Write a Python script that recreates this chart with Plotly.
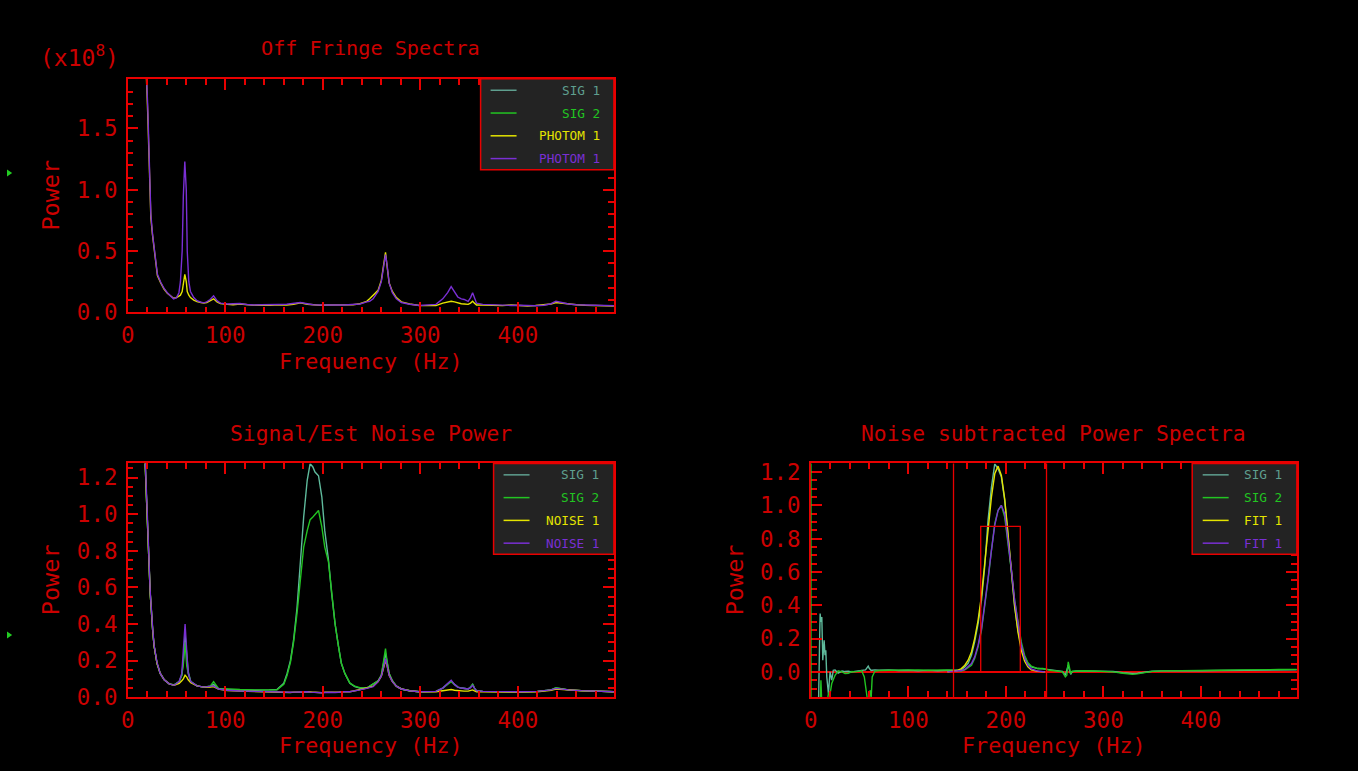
import plotly.graph_objects as go

# ---------------- data ----------------
# Panel 1: Off Fringe Spectra (units of 1e8)
F_TOP = [16, 19, 20.5, 22, 23.7, 25.4, 27, 28.7, 30.4, 33.8,
         37.2, 40.6, 44, 47, 50, 52.5, 54, 55.8, 57, 58.5,
         60, 61, 62.6, 64.3, 67.7, 71, 75, 78, 81, 84.5,
         88, 91.5, 95, 102, 108, 115, 122, 129, 137, 146,
         155, 163, 170, 177, 184, 190, 197, 205, 214, 222,
         231, 238, 245, 248, 251.6, 256.7, 260, 262.6, 264.3, 266,
         268, 271.3, 275.4, 280.5, 289, 299, 308, 316, 323, 328,
         331.6, 335, 338.4, 342, 345, 349, 351.5, 353.6, 355.5, 357.6,
         364, 374, 384, 393, 401, 410, 418, 427, 434, 439,
         445, 452, 460, 469, 478, 486, 494, 498.5]
PHOTOM1_TOP = [4.0, 1.95, 1.62, 1.17, 0.77, 0.63, 0.52, 0.37, 0.30, 0.24,
               0.19, 0.155, 0.13, 0.115, 0.12, 0.13, 0.14, 0.17, 0.24, 0.31,
               0.25, 0.17, 0.14, 0.12, 0.10, 0.087, 0.08, 0.075, 0.08, 0.095,
               0.11, 0.085, 0.072, 0.065, 0.062, 0.068, 0.06, 0.058, 0.06, 0.057,
               0.062, 0.06, 0.066, 0.078, 0.066, 0.06, 0.058, 0.06, 0.062, 0.058,
               0.062, 0.07, 0.09, 0.11, 0.14, 0.18, 0.26, 0.40, 0.49, 0.37,
               0.24, 0.17, 0.12, 0.085, 0.068, 0.056, 0.055, 0.055, 0.075, 0.085,
               0.09, 0.085, 0.075, 0.07, 0.068, 0.065, 0.075, 0.09, 0.075, 0.06,
               0.06, 0.058, 0.055, 0.06, 0.055, 0.052, 0.056, 0.06, 0.068, 0.08,
               0.075, 0.065, 0.062, 0.058, 0.055, 0.057, 0.05, 0.052]
PHOTOM2_TOP = [4.0, 1.97, 1.68, 1.2, 0.8, 0.64, 0.53, 0.38, 0.31, 0.245,
               0.195, 0.16, 0.13, 0.11, 0.12, 0.16, 0.25, 0.50, 0.95, 1.23,
               1.0, 0.50, 0.25, 0.17, 0.12, 0.095, 0.082, 0.077, 0.085, 0.105,
               0.135, 0.095, 0.075, 0.068, 0.07, 0.072, 0.064, 0.06, 0.062, 0.06,
               0.064, 0.066, 0.07, 0.08, 0.07, 0.062, 0.06, 0.062, 0.06, 0.06,
               0.065, 0.068, 0.085, 0.09, 0.11, 0.17, 0.25, 0.38, 0.47, 0.38,
               0.24, 0.16, 0.11, 0.08, 0.066, 0.056, 0.058, 0.065, 0.11, 0.16,
               0.21, 0.165, 0.125, 0.11, 0.105, 0.09, 0.12, 0.16, 0.12, 0.075,
               0.065, 0.06, 0.058, 0.056, 0.058, 0.055, 0.054, 0.058, 0.07, 0.09,
               0.08, 0.068, 0.062, 0.06, 0.056, 0.055, 0.055, 0.054]

# Panel 2: Signal/Est Noise Power
F_BL = [15, 17.7, 19.7, 21, 23, 25.5, 27, 30, 33.3, 37.4,
        42.5, 47.6, 52.7, 55.4, 57, 58.8, 60.5, 62, 64.6, 71,
        78, 84.6, 88, 93, 102, 115, 130, 145, 153, 160,
        163.4, 166.8, 170, 173.6, 177, 180.4, 184, 187, 189.8, 192,
        195.6, 199, 202, 205.8, 209, 212.6, 216, 219, 222.6, 227.7,
        232.8, 238, 245, 251.6, 256.7, 260, 262.6, 264.3, 266, 268,
        271.3, 275.4, 280.5, 289, 299, 316, 323, 328, 331.6, 335,
        338.4, 342, 345, 349, 351.5, 353.6, 355.5, 357.6, 364, 384,
        401, 420, 434, 439, 445, 452, 465, 480, 498.5]
SIG1_BL = [3.0, 1.3, 1.02, 0.84, 0.57, 0.37, 0.28, 0.185, 0.13, 0.095,
           0.073, 0.067, 0.085, 0.12, 0.2, 0.34, 0.2, 0.14, 0.085, 0.062,
           0.055, 0.06, 0.07, 0.046, 0.042, 0.04, 0.038, 0.04, 0.042, 0.076,
           0.13, 0.2, 0.31, 0.49, 0.73, 0.985, 1.185, 1.276, 1.258, 1.23,
           1.21, 1.095, 0.91, 0.75, 0.57, 0.40, 0.28, 0.185, 0.13, 0.076,
           0.058, 0.05, 0.05, 0.07, 0.09, 0.12, 0.19, 0.24, 0.19, 0.13,
           0.09, 0.06, 0.045, 0.035, 0.03, 0.032, 0.05, 0.075, 0.09, 0.07,
           0.055, 0.05, 0.048, 0.045, 0.055, 0.07, 0.05, 0.035, 0.032, 0.03,
           0.03, 0.032, 0.04, 0.05, 0.045, 0.04, 0.036, 0.034, 0.03]
SIG2_BL = [3.0, 1.3, 1.02, 0.84, 0.57, 0.37, 0.28, 0.185, 0.13, 0.095,
           0.073, 0.067, 0.085, 0.12, 0.18, 0.30, 0.17, 0.13, 0.085, 0.062,
           0.055, 0.06, 0.085, 0.048, 0.044, 0.042, 0.04, 0.042, 0.04, 0.07,
           0.12, 0.19, 0.30, 0.46, 0.66, 0.82, 0.91, 0.97, 0.985, 1.0,
           1.02, 0.93, 0.82, 0.74, 0.57, 0.40, 0.28, 0.185, 0.13, 0.078,
           0.06, 0.052, 0.05, 0.072, 0.09, 0.12, 0.2, 0.265, 0.19, 0.13,
           0.09, 0.06, 0.045, 0.035, 0.03, 0.032, 0.05, 0.072, 0.085, 0.07,
           0.055, 0.05, 0.048, 0.045, 0.055, 0.072, 0.05, 0.035, 0.032, 0.03,
           0.03, 0.032, 0.04, 0.052, 0.045, 0.04, 0.036, 0.034, 0.03]
NOISE1_BL = [3.0, 1.3, 1.02, 0.84, 0.57, 0.37, 0.28, 0.185, 0.13, 0.095,
             0.073, 0.065, 0.075, 0.09, 0.1, 0.12, 0.11, 0.095, 0.08, 0.062,
             0.055, 0.056, 0.058, 0.044, 0.037, 0.033, 0.03, 0.027, 0.026, 0.028,
             0.027, 0.026, 0.028, 0.027, 0.026, 0.028, 0.03, 0.027, 0.028, 0.027,
             0.025, 0.024, 0.027, 0.026, 0.027, 0.025, 0.027, 0.029, 0.028, 0.03,
             0.035, 0.04, 0.05, 0.06, 0.085, 0.115, 0.17, 0.2, 0.17, 0.12,
             0.085, 0.06, 0.045, 0.035, 0.03, 0.03, 0.035, 0.04, 0.042, 0.038,
             0.035, 0.034, 0.033, 0.033, 0.036, 0.04, 0.035, 0.03, 0.03, 0.028,
             0.028, 0.03, 0.038, 0.045, 0.042, 0.04, 0.035, 0.033, 0.03]
NOISE2_BL = [3.0, 1.32, 1.05, 0.86, 0.58, 0.38, 0.285, 0.19, 0.13, 0.095,
             0.073, 0.065, 0.085, 0.13, 0.28, 0.40, 0.25, 0.13, 0.085, 0.062,
             0.055, 0.058, 0.062, 0.045, 0.038, 0.034, 0.031, 0.028, 0.027, 0.029,
             0.028, 0.027, 0.028, 0.029, 0.03, 0.029, 0.03, 0.028, 0.027, 0.025,
             0.025, 0.024, 0.026, 0.028, 0.027, 0.026, 0.028, 0.029, 0.03, 0.03,
             0.034, 0.04, 0.048, 0.058, 0.085, 0.115, 0.17, 0.21, 0.17, 0.12,
             0.085, 0.06, 0.045, 0.035, 0.03, 0.032, 0.05, 0.075, 0.093, 0.07,
             0.055, 0.05, 0.048, 0.045, 0.052, 0.065, 0.05, 0.035, 0.032, 0.03,
             0.03, 0.032, 0.04, 0.048, 0.044, 0.04, 0.036, 0.034, 0.03]

# Panel 3: Noise subtracted Power Spectra
F_BR = [0, 3, 6, 7.8, 9, 9.5, 10.3, 11.2, 12.2, 13,
        13.6, 14.5, 15.3, 16.3, 17.2, 18, 19, 19.7, 21.4, 23,
        24.8, 28, 32, 35, 38.4, 42, 45, 49, 52, 54.8,
        56, 57, 58, 58.8, 60, 60.8, 61.8, 62.9, 65.7, 70,
        80, 90, 100, 110, 120, 130, 140, 146, 150, 154.4,
        157.9, 161.3, 164.7, 168, 171.5, 175, 178.3, 181.7, 185.2, 188.6,
        192, 195.4, 198.8, 202.2, 205.6, 209, 212.4, 215.8, 219.2, 222.6,
        226, 232.8, 238, 245, 252, 258, 261, 262.5, 264, 265.3,
        266.5, 268, 272, 280, 290, 300, 310, 320, 330, 335,
        340, 350, 360, 380, 400, 420, 440, 460, 480, 498.5]
SIG1_BR = [-1.0, -0.5, -0.3, -0.2, 0.2, 0.35, 0.30, 0.33, 0.07, 0.12,
           0.19, 0.1, 0.13, -0.03, -0.1, -0.13, -0.05, 0.0, -0.05, 0.01,
           0.012, -0.008, 0.005, 0.002, 0.004, 0.0, 0.003, 0.006, 0.008, 0.01,
           0.012, 0.02, 0.03, 0.035, 0.02, 0.01, 0.008, 0.01, 0.012, 0.01,
           0.012, 0.008, 0.01, 0.006, 0.009, 0.007, 0.01, 0.01, 0.01, 0.012,
           0.03, 0.052, 0.1, 0.18, 0.29, 0.43, 0.63, 0.91, 1.11, 1.25,
           1.22, 1.17, 1.03, 0.81, 0.57, 0.39, 0.25, 0.15, 0.09, 0.05,
           0.03, 0.02, 0.018, 0.012, 0.008, 0.003, -0.02, 0.01, 0.04, 0.01,
           -0.015, 0.002, 0.005, 0.006, 0.004, 0.003, 0.002, -0.005, -0.01, -0.008,
           -0.004, 0.004, 0.006, 0.005, 0.007, 0.008, 0.01, 0.012, 0.01, 0.012]
SIG2_BR = [-0.5, -0.5, -0.3, -0.2, -0.3, -0.15, -0.05, -0.2, -0.3, -0.25,
           -0.3, -0.3, -0.3, -0.2, -0.15, -0.13, -0.12, -0.13, -0.07, -0.04,
           -0.02, 0.006, 0.0, -0.01, -0.008, 0.002, 0.0, 0.003, 0.008, -0.03,
           -0.08, -0.11, -0.16, -0.2, -0.14, -0.11, -0.16, -0.03, 0.005, 0.008,
           0.01, 0.012, 0.014, 0.012, 0.01, 0.013, 0.012, 0.01, 0.008, 0.005,
           0.012, 0.025, 0.04, 0.08, 0.15, 0.25, 0.39, 0.55, 0.73, 0.89,
           0.97, 1.0, 0.93, 0.78, 0.61, 0.43, 0.29, 0.18, 0.1, 0.055,
           0.035, 0.02, 0.02, 0.01, 0.005, 0.0, -0.03, -0.02, 0.06, 0.02,
           -0.01, 0.004, 0.006, 0.007, 0.005, 0.003, 0.0, -0.008, -0.015, -0.012,
           -0.006, 0.003, 0.006, 0.006, 0.008, 0.01, 0.012, 0.015, 0.014, 0.015]
F_FIT = [140, 146, 150, 154.4, 157.9, 161.3, 164.7, 168, 171.5, 175,
         178.3, 181.7, 185.2, 188.6, 192, 195.4, 198.8, 202.2, 205.6, 209,
         212.4, 215.8, 219.2, 222.6, 226, 232.8, 240]
FIT1 = [0, 0.003, 0.008, 0.02, 0.04, 0.07, 0.12, 0.2, 0.31, 0.46,
        0.65, 0.86, 1.05, 1.19, 1.236, 1.18, 1.04, 0.83, 0.6, 0.4,
        0.24, 0.13, 0.065, 0.03, 0.012, 0.003, 0]
FIT2 = [0, 0.002, 0.004, 0.008, 0.015, 0.03, 0.05, 0.09, 0.16, 0.26,
        0.4, 0.56, 0.73, 0.88, 0.97, 1.0, 0.95, 0.8, 0.62, 0.43,
        0.28, 0.16, 0.085, 0.04, 0.018, 0.005, 0]
WINDOW = [146.3, 241.7]          # fit window (Hz)
BOX_X = [174.2, 214.8]           # band box (Hz)
BOX_H = 0.874                    # band box height

TITLES = ["Off Fringe Spectra", "Signal/Est Noise Power", "Noise subtracted Power Spectra"]
LEG_TOP = ["SIG 1", "SIG 2", "PHOTOM 1", "PHOTOM 1"]
LEG_BL = ["SIG 1", "SIG 2", "NOISE 1", "NOISE 1"]
LEG_BR = ["SIG 1", "SIG 2", "FIT 1", "FIT 1"]

# ---------------- style ----------------
W, H = 1358, 771
RED = "#e80000"
RTXT = "#cc0000"
C1, C2, C3, C4 = "#5fba9c", "#22c422", "#e4e400", "#7a2fd4"
LC1 = "#5f9f8f"
MONO = "DejaVu Sans Mono"
LW = 1.4

# the photographed page comes out slightly offset/scaled; map target pixels to figure space
OX, SX = 5.8, 0.9961
OY, SY = 3.35, 0.979


def px(x):
    return ((x - OX) / SX) / W


def py(y):
    return 1 - ((y - OY) / SY) / H


fig = go.Figure()


def line(x, y, color, xa, ya, width=LW):
    fig.add_trace(go.Scatter(x=x, y=y, mode="lines", line=dict(color=color, width=width),
                             xaxis=xa, yaxis=ya, hoverinfo="skip", showlegend=False))


# panel 1
line(F_TOP, PHOTOM1_TOP, C3, "x", "y")
line(F_TOP, PHOTOM2_TOP, C4, "x", "y")
# panel 2
line(F_BL, SIG1_BL, C1, "x2", "y2")
line(F_BL, SIG2_BL, C2, "x2", "y2")
line(F_BL, NOISE1_BL, C3, "x2", "y2")
line(F_BL, NOISE2_BL, C4, "x2", "y2")
# panel 3
line(F_BR, SIG1_BR, C1, "x3", "y3")
line(F_BR, SIG2_BR, C2, "x3", "y3")
line(F_FIT, FIT1, C3, "x3", "y3")
line(F_FIT, FIT2, C4, "x3", "y3")
line([BOX_X[0], BOX_X[0], BOX_X[1], BOX_X[1]], [0, BOX_H, BOX_H, 0], RED, "x3", "y3", 1.3)

XDOM_L = [px(126.7), px(613.5)]
XDOM_R = [px(810.7), px(1297.3)]
YDOM_T = [py(312.0), py(78.3)]
YDOM_B = [py(697.3), py(463.3)]


def axis(domain, rng, dtick, mdtick, anchor, standoff, fmt=None):
    d = dict(domain=domain, range=rng, anchor=anchor, showline=True, linecolor=RED, linewidth=1.5,
             mirror="allticks", ticks="inside", ticklen=11, tickwidth=1.5, tickcolor=RED,
             showgrid=False, zeroline=False, tick0=0, dtick=dtick,
             tickfont=dict(family=MONO, size=22.5, color=RTXT),
             ticklabelstandoff=standoff,
             minor=dict(ticks="inside", ticklen=6, tickwidth=1.5, tickcolor=RED,
                        dtick=mdtick, tick0=0, showgrid=False))
    if fmt:
        d["tickformat"] = fmt
    return d


layout = dict(
    width=W, height=H, margin=dict(l=0, r=0, t=0, b=0),
    paper_bgcolor="black", plot_bgcolor="black", showlegend=False,
    xaxis=axis(XDOM_L, [0, 498.5], 100, 20, "y", 2),
    yaxis=axis(YDOM_T, [0, 1.905], 0.5, 0.1, "x", 4, ".1f"),
    xaxis2=axis(XDOM_L, [0, 498.5], 100, 20, "y2", 2),
    yaxis2=axis(YDOM_B, [0, 1.277], 0.2, 0.05, "x2", 4, ".1f"),
    xaxis3=axis(XDOM_R, [0, 498.5], 100, 20, "y3", 2),
    yaxis3=axis(YDOM_B, [-0.152, 1.252], 0.2, 0.05, "x3", 4, ".1f"),
)
layout["yaxis3"]["zeroline"] = True
layout["yaxis3"]["zerolinecolor"] = RED
layout["yaxis3"]["zerolinewidth"] = 1.5
fig.update_layout(**layout)

shapes = []
annos = []

# fit window vertical lines
for wx in WINDOW:
    shapes.append(dict(type="line", xref="x3", yref="y3 domain", x0=wx, x1=wx, y0=0, y1=1,
                       line=dict(color=RED, width=1.3), layer="above"))
# green left spine on panel 3
shapes.append(dict(type="line", xref="x3", yref="y3 domain", x0=0, x1=0, y0=0, y1=1,
                   line=dict(color=C2, width=1.5), layer="above"))


def text(s, x, y, size=21, angle=0, color=RTXT, xanchor="center"):
    annos.append(dict(text=s, x=px(x), y=py(y), xref="paper", yref="paper", showarrow=False,
                      font=dict(family=MONO, size=size, color=color), textangle=angle,
                      xanchor=xanchor, yanchor="middle"))


# titles
text(TITLES[0], 370, 47, size=20.2)
text(TITLES[1], 370, 433, size=21.3)
text(TITLES[2], 1054, 433, size=21.3)
# axis titles
text("Frequency (Hz)", 370, 361, size=21.8)
text("Frequency (Hz)", 370, 746, size=21.8)
text("Frequency (Hz)", 1054, 746, size=21.8)
text("Power", 50, 195, size=23.5, angle=-90)
text("Power", 50, 580, size=23.5, angle=-90)
text("Power", 735, 580, size=23.5, angle=-90)
text("(x10<sup>8</sup>)", 78.5, 55, size=23)


def legend(x0, x1, y0, labels, lx0, lx1, tx):
    rows = [y0 + 11.4 + 22.8 * i for i in range(4)]
    shapes.append(dict(type="rect", xref="paper", yref="paper", x0=px(x0), x1=px(x1),
                       y0=py(y0 + 91), y1=py(y0), fillcolor="#232323",
                       line=dict(color=RED, width=1.5), layer="above"))
    cols = [LC1, C2, C3, C4]
    for lab, c, ry in zip(labels, cols, rows):
        shapes.append(dict(type="line", xref="paper", yref="paper", x0=px(lx0), x1=px(lx1),
                           y0=py(ry), y1=py(ry), line=dict(color=c, width=1.5), layer="above"))
        text(lab, tx, ry, size=12.7, color=c, xanchor="right")


legend(480, 613.5, 78.3, LEG_TOP, 490, 516, 602)
legend(493, 613.5, 463.3, LEG_BL, 503, 529, 601)
legend(1192.5, 1297.3, 463.3, LEG_BR, 1203, 1229, 1284)

# small green markers at the page's left edge
for ay in (172.5, 635):
    shapes.append(dict(type="path", xref="paper", yref="paper",
                       path=f"M 0,{py(ay - 3.5)} L {px(11)},{py(ay)} L 0,{py(ay + 3.5)} Z",
                       fillcolor="#22cc22", line=dict(width=0), layer="above"))

fig.update_layout(shapes=shapes, annotations=annos)
fig.write_html("out.html")
